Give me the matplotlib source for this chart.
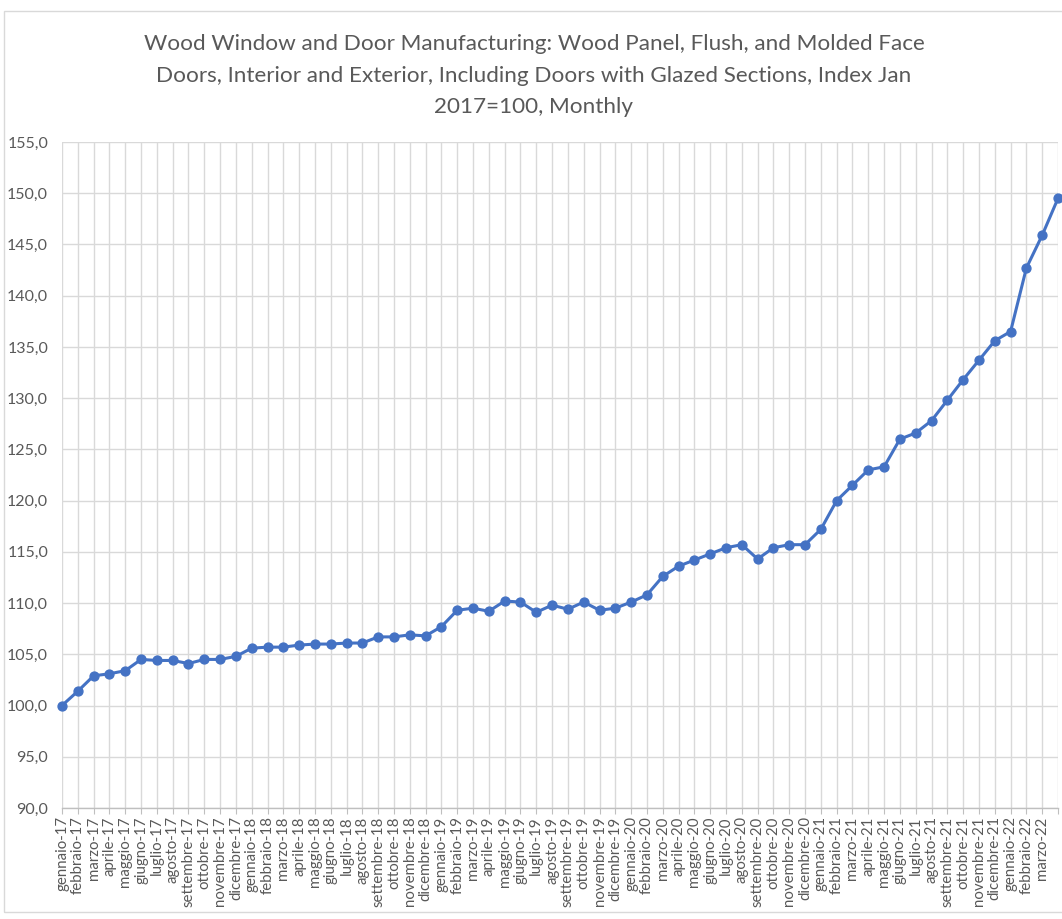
import matplotlib
matplotlib.use("Agg")
import matplotlib.pyplot as plt
from matplotlib.patches import Rectangle
from matplotlib.ticker import FuncFormatter, MultipleLocator

plt.rcParams['font.family'] = ['Lato', 'DejaVu Sans']

title = ("Wood Window and Door Manufacturing: Wood Panel, Flush, and Molded Face\n"
         "Doors, Interior and Exterior, Including Doors with Glazed Sections, Index Jan\n"
         "2017=100, Monthly")

months_it = ["gennaio", "febbraio", "marzo", "aprile", "maggio", "giugno",
             "luglio", "agosto", "settembre", "ottobre", "novembre", "dicembre"]
years = ["17", "18", "19", "20", "21", "22"]
categories = [f"{m}-{y}" for y in years for m in months_it][:64]

values = [100.0, 101.4, 102.9, 103.1, 103.4, 104.5, 104.4, 104.4, 104.1, 104.5, 104.5, 104.8,
          105.6, 105.7, 105.7, 105.9, 106.0, 106.0, 106.1, 106.1, 106.7, 106.7, 106.9, 106.8,
          107.7, 109.3, 109.5, 109.2, 110.2, 110.1, 109.1, 109.8, 109.4, 110.1, 109.3, 109.5,
          110.1, 110.8, 112.6, 113.6, 114.2, 114.8, 115.4, 115.7, 114.3, 115.4, 115.7, 115.7,
          117.2, 120.0, 121.5, 123.0, 123.3, 126.0, 126.6, 127.8, 129.8, 131.8, 133.7, 135.6,
          136.5, 142.7, 145.9, 149.5]

W, H = 1062, 919
fig = plt.figure(figsize=(W / 100, H / 100), dpi=100)

# chart area border (cropped on the right in the source)
fig.patches.append(Rectangle((4 / W, 1 - 912 / H), 1.2, (912 - 11) / H,
                             transform=fig.transFigure, fill=False,
                             edgecolor="#D9D9D9", linewidth=1.0))

x0, x1 = 62, 1058
ytop, ybot = 142, 808
ax = fig.add_axes([x0 / W, 1 - ybot / H, (x1 - x0) / W, (ybot - ytop) / H])

xs = list(range(len(values)))
ax.plot(xs, values, color="#4472C4", linewidth=2.2, marker="o", markersize=6.4,
        markerfacecolor="#4472C4", markeredgecolor="#4472C4", zorder=3, clip_on=False)

ax.set_xlim(0, len(values) - 1)
ax.set_ylim(90, 155)
ax.yaxis.set_major_locator(MultipleLocator(5))
ax.yaxis.set_major_formatter(FuncFormatter(lambda v, p: f"{v:.1f}".replace(".", ",")))

ax.set_xticks(xs)
ax.set_xticklabels(categories[:len(values)], rotation=90, fontsize=10.8, color="#595959")
ax.get_xticklabels()[-1].set_visible(False)

ax.grid(True, color="#D9D9D9", linewidth=1.0)
ax.set_axisbelow(True)
for s in ["top", "right", "left"]:
    ax.spines[s].set_visible(False)
ax.spines["bottom"].set_color("#BFBFBF")
ax.spines["bottom"].set_linewidth(1.0)
ax.tick_params(axis="y", length=0, labelsize=11.5, labelcolor="#595959", pad=10)
ax.tick_params(axis="x", length=4, color="#BFBFBF", pad=2)

fig.text(534 / W, 1 - 34 / H, title, ha="center", va="top", fontsize=16.2,
         color="#595959", linespacing=1.72)

fig.savefig("out.png", dpi=100)
